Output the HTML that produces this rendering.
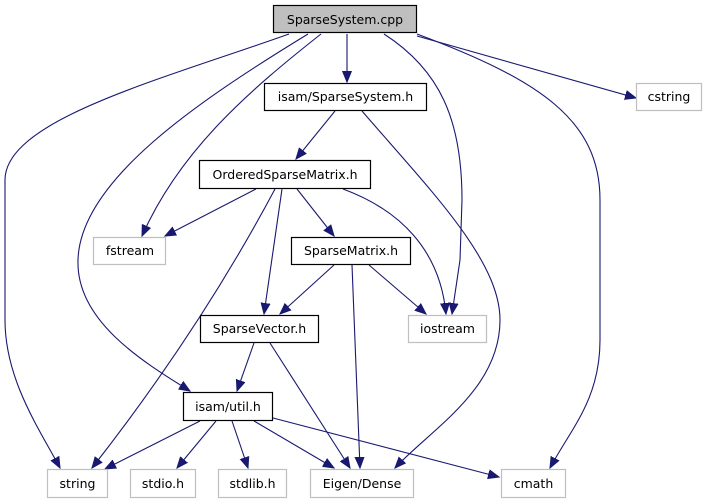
<!DOCTYPE html>
<html><head><meta charset="utf-8"><style>
html,body{margin:0;padding:0;background:#fff;}
svg{display:block;}
text{font-family:"DejaVu Sans","Liberation Sans",sans-serif;font-size:12.5px;fill:#000;}
</style></head><body>
<svg width="704" height="504" viewBox="0 0 704 504" xmlns="http://www.w3.org/2000/svg">
<defs>
<marker id="a" markerUnits="userSpaceOnUse" markerWidth="14" markerHeight="12" refX="11" refY="5" orient="auto">
<path d="M0,0.5 L11,5 L0,9.5 Z" fill="#191970" stroke="#191970" stroke-width="1"/>
</marker>
</defs>
<g fill="none" stroke="#191970" stroke-width="1.1" marker-end="url(#a)">
<path d="M289,34 C160,80 5,120 5,180 L5,320 C5,380 40,430 60,468"/>
<path d="M308,34 C200,100 80,180 78,260 C76,320 140,360 190,391"/>
<path d="M321,34 C250,90 180,150 142,236"/>
<path d="M347,34 L347,82"/>
<path d="M384,34 C440,70 462,120 462,200 L460,260 L452,314"/>
<path d="M417,34 C540,80 600,120 600,200 L600,340 C600,400 570,430 550,468"/>
<path d="M417,36 L636,98"/>
<path d="M335,111 L296,159"/>
<path d="M362,111 C430,190 500,260 500,320 C500,390 430,430 395,468"/>
<path d="M256,189 L165,236"/>
<path d="M275,189 Q200,330 92,468"/>
<path d="M282,189 L264,314"/>
<path d="M297,189 L334,236"/>
<path d="M343,189 C400,210 440,250 446,314"/>
<path d="M334,265 L280,314"/>
<path d="M352,265 L360,468"/>
<path d="M369,265 L426,314"/>
<path d="M254,343 L237,391"/>
<path d="M270,343 L350,468"/>
<path d="M200,421 L105,469"/>
<path d="M216,421 L177,468"/>
<path d="M232,421 L248,468"/>
<path d="M254,421 L334,468"/>
<path d="M273,418 L499,477"/>
</g>
<g stroke-width="1.2">
<rect x="273.5" y="5.5" width="143" height="27" fill="#bfbfbf" stroke="#000"/>
<rect x="264.5" y="83.5" width="162" height="27" fill="#fff" stroke="#000"/>
<rect x="636.5" y="83.5" width="65" height="27" fill="#fff" stroke="#bfbfbf"/>
<rect x="199.5" y="160.5" width="171" height="28" fill="#fff" stroke="#000"/>
<rect x="93.5" y="237.5" width="72" height="27" fill="#fff" stroke="#bfbfbf"/>
<rect x="291.5" y="237.5" width="119" height="27" fill="#fff" stroke="#000"/>
<rect x="200.5" y="315.5" width="118" height="27" fill="#fff" stroke="#000"/>
<rect x="408.5" y="315.5" width="78" height="27" fill="#fff" stroke="#bfbfbf"/>
<rect x="183.5" y="392.5" width="89" height="28" fill="#fff" stroke="#000"/>
<rect x="47.5" y="469.5" width="60" height="28" fill="#fff" stroke="#bfbfbf"/>
<rect x="130.5" y="469.5" width="65" height="28" fill="#fff" stroke="#bfbfbf"/>
<rect x="218.5" y="469.5" width="68" height="28" fill="#fff" stroke="#bfbfbf"/>
<rect x="310.5" y="469.5" width="103" height="28" fill="#fff" stroke="#bfbfbf"/>
<rect x="501.5" y="469.5" width="64" height="28" fill="#fff" stroke="#bfbfbf"/>
</g>
<g text-anchor="middle">
<text x="345" y="24">SparseSystem.cpp</text>
<text x="345.5" y="101">isam/SparseSystem.h</text>
<text x="669" y="101">cstring</text>
<text x="285" y="179">OrderedSparseMatrix.h</text>
<text x="130" y="255">fstream</text>
<text x="351" y="255">SparseMatrix.h</text>
<text x="259.5" y="333">SparseVector.h</text>
<text x="447.5" y="333">iostream</text>
<text x="228" y="411">isam/util.h</text>
<text x="77.5" y="488">string</text>
<text x="163" y="488">stdio.h</text>
<text x="252.5" y="488">stdlib.h</text>
<text x="362" y="488">Eigen/Dense</text>
<text x="533.5" y="488">cmath</text>
</g>
</svg>
</body></html>
